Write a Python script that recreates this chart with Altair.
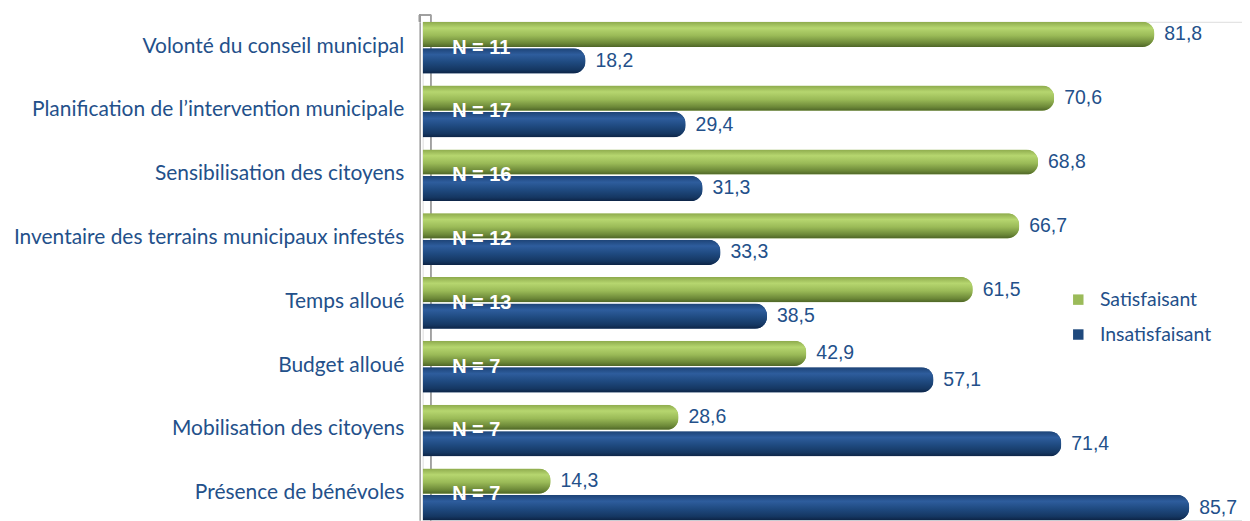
import altair as alt
import pandas as pd

categories = [
    "Volonté du conseil municipal",
    "Planification de l’intervention municipale",
    "Sensibilisation des citoyens",
    "Inventaire des terrains municipaux infestés",
    "Temps alloué",
    "Budget alloué",
    "Mobilisation des citoyens",
    "Présence de bénévoles",
]
satisfaisant = [81.8, 70.6, 68.8, 66.7, 61.5, 42.9, 28.6, 14.3]
insatisfaisant = [18.2, 29.4, 31.3, 33.3, 38.5, 57.1, 71.4, 85.7]
n_labels = ["N = 11", "N = 17", "N = 16", "N = 12", "N = 13", "N = 7", "N = 7", "N = 7"]
series = ["Satisfaisant", "Insatisfaisant"]

rows = []
for c, s, i in zip(categories, satisfaisant, insatisfaisant):
    rows.append({"cat": c, "serie": series[0], "val": s, "lab": f"{s:.1f}".replace(".", ",")})
    rows.append({"cat": c, "serie": series[1], "val": i, "lab": f"{i:.1f}".replace(".", ",")})
df = pd.DataFrame(rows)
dn = pd.DataFrame({"cat": categories, "n": n_labels})

TXT = "#23508A"
GREEN = "#9BBB59"
BLUE = "#1F497D"

yenc = alt.Y("cat:N", sort=categories, title=None,
             scale=alt.Scale(paddingInner=0.19, paddingOuter=0),
             axis=alt.Axis(labelFont="Lato", labelFontSize=21, labelColor=TXT,
                           labelPadding=16, offset=3, ticks=False, domainColor="#9A9A9A",
                           domainWidth=1.5, labelLimit=600, grid=False, labelOffset=-1))
yoff = alt.YOffset("serie:N", sort=series, scale=alt.Scale(domain=series, paddingInner=0.05, paddingOuter=0))
xenc = alt.X("val:Q", scale=alt.Scale(domain=[0, 91.6], nice=False, zero=True), axis=None)

base = alt.Chart(df)

legend_bars = base.mark_bar(cornerRadiusEnd=12).encode(
    x=xenc, y=yenc, yOffset=yoff,
    color=alt.Color("serie:N", sort=series,
                    scale=alt.Scale(domain=series, range=[GREEN, BLUE]),
                    legend=alt.Legend(title=None, orient="none", legendX=648, legendY=269,
                                      symbolType="square", symbolSize=110, symbolStrokeWidth=0,
                                      labelFont="Lato", labelFontSize=19.5, labelColor=TXT,
                                      labelOffset=12, rowPadding=14)),
)

green_grad = alt.Gradient(gradient="linear", x1=0, x2=0, y1=0, y2=1, stops=[
    alt.GradientStop(offset=0, color="#8DAA4C"),
    alt.GradientStop(offset=0.25, color="#B6D66F"),
    alt.GradientStop(offset=0.55, color="#9ABA57"),
    alt.GradientStop(offset=0.85, color="#6C8838"),
    alt.GradientStop(offset=1, color="#4E6527"),
])
blue_grad = alt.Gradient(gradient="linear", x1=0, x2=0, y1=0, y2=1, stops=[
    alt.GradientStop(offset=0, color="#1D4376"),
    alt.GradientStop(offset=0.25, color="#2E5D9D"),
    alt.GradientStop(offset=0.55, color="#1F4A80"),
    alt.GradientStop(offset=0.85, color="#153762"),
    alt.GradientStop(offset=1, color="#0D2446"),
])

g_bars = base.transform_filter(alt.datum.serie == series[0]).mark_bar(
    cornerRadiusEnd=12, fill=green_grad).encode(x=xenc, y=yenc, yOffset=yoff)
b_bars = base.transform_filter(alt.datum.serie == series[1]).mark_bar(
    cornerRadiusEnd=12, fill=blue_grad).encode(x=xenc, y=yenc, yOffset=yoff)

val_text = base.mark_text(align="left", baseline="middle", dx=10, font="Liberation Sans",
                          fontSize=19.5, color=TXT).encode(
    x=xenc, y=yenc, yOffset=yoff, text="lab:N")

n_text = alt.Chart(dn).mark_text(align="left", baseline="middle", font="Liberation Sans",
                                  fontSize=20, fontWeight="bold", color="white", dy=0).encode(
    x=alt.datum(3.3), y=alt.Y("cat:N", sort=categories), text="n:N")

back_line = alt.Chart(dn).mark_rule(color="#A0A0A0", strokeWidth=1.2).encode(
    x=alt.value(8), y=alt.value(-7), y2=alt.value(500))
top_line = alt.Chart(dn).mark_rule(color="#A0A0A0", strokeWidth=1.5).encode(
    x=alt.value(-3), x2=alt.value(8), y=alt.value(-7))
left_line = alt.Chart(dn).mark_rule(color="#9A9A9A", strokeWidth=1.5).encode(
    x=alt.value(-3), y=alt.value(-7), y2=alt.value(0))

chart = alt.layer(back_line, top_line, left_line, legend_bars, g_bars, b_bars, val_text, n_text).properties(
    width=822, height=500,
    autosize=alt.AutoSizeParams(type="none"),
    padding={"left": 416, "top": 13, "right": 0, "bottom": 0},
).configure_view(stroke=None).configure(background="white")

chart.save("out.html", embed_options={"renderer": "svg", "actions": False})
